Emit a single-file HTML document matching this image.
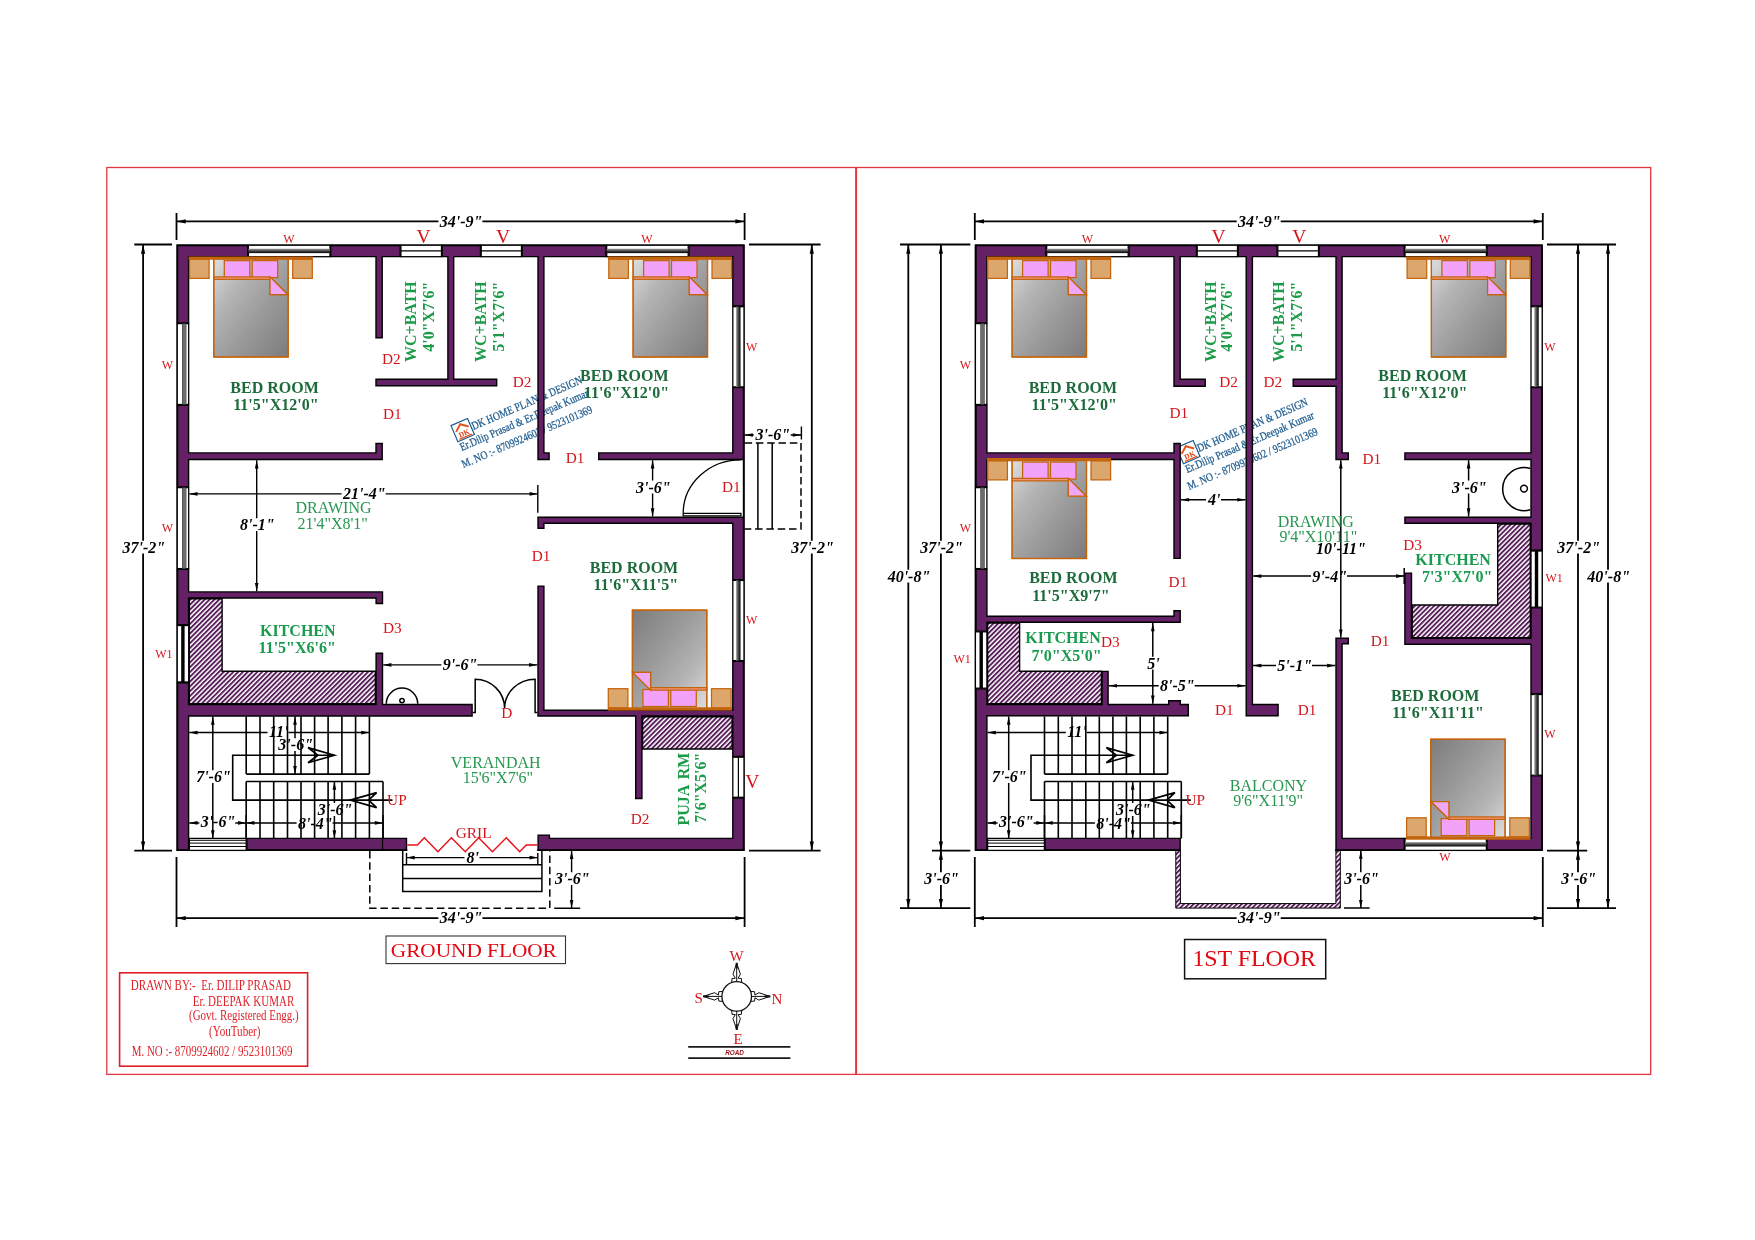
<!DOCTYPE html>
<html lang="en"><head><meta charset="utf-8"><title>Ground Floor and 1st Floor Plan</title>
<style>html,body{margin:0;padding:0;background:#fff}body{width:1755px;height:1240px;overflow:hidden}svg{display:block;will-change:transform}</style>
</head><body>
<svg width="1755" height="1240" viewBox="0 0 1755 1240" font-family="'Liberation Serif', serif">
<defs>
<pattern id="hat" width="3.4" height="3.4" patternUnits="userSpaceOnUse" patternTransform="rotate(-45)">
<rect width="3.4" height="3.4" fill="#fff"/><rect y="0" width="3.4" height="1.9" fill="#571e5a"/></pattern>
<pattern id="hat2" width="3.4" height="3.4" patternUnits="userSpaceOnUse" patternTransform="rotate(-45)">
<rect width="3.4" height="3.4" fill="#fff"/><rect y="0" width="3.4" height="1.9" fill="#571e5a"/></pattern>
<linearGradient id="bedg" x1="0" y1="0" x2="1" y2="1"><stop offset="0" stop-color="#dedede"/><stop offset="0.3" stop-color="#b4b4b4"/><stop offset="0.6" stop-color="#9a9a9a"/><stop offset="1" stop-color="#7c7c7c"/></linearGradient>
<linearGradient id="bedg2" x1="1" y1="1" x2="0" y2="0"><stop offset="0" stop-color="#c9c9c9"/><stop offset="0.5" stop-color="#a0a0a0"/><stop offset="1" stop-color="#7e7e7e"/></linearGradient>
<linearGradient id="hbg" x1="0" y1="0" x2="0" y2="1"><stop offset="0" stop-color="#e4e4e4"/><stop offset="1" stop-color="#9a9a9a"/></linearGradient>
<linearGradient id="wgh" x1="0" y1="0" x2="1" y2="0"><stop offset="0" stop-color="#a0a0a0"/><stop offset="0.4" stop-color="#5a5a5a"/><stop offset="1" stop-color="#000"/></linearGradient>
<linearGradient id="wgv" x1="0" y1="0" x2="0" y2="1"><stop offset="0" stop-color="#a0a0a0"/><stop offset="0.4" stop-color="#5a5a5a"/><stop offset="1" stop-color="#000"/></linearGradient>
<linearGradient id="wgl" x1="0" y1="0" x2="1" y2="0"><stop offset="0" stop-color="#333"/><stop offset="0.2" stop-color="#6c6c6c"/><stop offset="0.8" stop-color="#6c6c6c"/><stop offset="1" stop-color="#333"/></linearGradient>
<linearGradient id="pil" x1="0" y1="0" x2="1" y2="1"><stop offset="0" stop-color="#eea4f6"/><stop offset="1" stop-color="#f6a0fc"/></linearGradient>
</defs>
<rect width="1755" height="1240" fill="#fff"/>
<g fill="none" stroke="#e0383c">
<rect x="106.8" y="167.5" width="1543.9" height="906.9" stroke-width="1.3"/>
<line x1="856.1" y1="167.5" x2="856.1" y2="1074.4" stroke-width="2"/>
<rect x="119.6" y="972.8" width="188" height="93.4" stroke-width="1.6" stroke="#dd1f26"/>
</g>
<g transform="translate(473.4 430.1) rotate(-23.3)" fill="#1b5a8e" font-size="11.5" stroke="#1b5a8e" stroke-width="0.25">
<rect x="-18.8" y="-13" width="18" height="17.5" fill="#fff" stroke="#1b5a8e" stroke-width="1.2"/>
<path d="M-16.6 -5.2L-9.8 -10.6L-3 -5.2" fill="none" stroke="#e2571e" stroke-width="2"/>
<path d="M-16.5 3H-3" fill="none" stroke="#e2571e" stroke-width="1.4"/>
<text x="-9.8" y="1.6" font-size="7.6" font-weight="bold" fill="#d8431a" stroke="none" text-anchor="middle" textLength="11" lengthAdjust="spacingAndGlyphs">DK</text>
<text x="0" y="0" textLength="119.5" lengthAdjust="spacingAndGlyphs">DK HOME PLAN &amp; DESIGN</text>
<text x="-19" y="14.5" textLength="139" lengthAdjust="spacingAndGlyphs">Er.Dilip Prasad &amp; Er.Deepak Kumar</text>
<text x="-24" y="31" textLength="141" lengthAdjust="spacingAndGlyphs">M. NO :- 8709924602 / 9523101369</text>
</g>
<g transform="translate(1199 452.1) rotate(-23.3)" fill="#1b5a8e" font-size="11.5" stroke="#1b5a8e" stroke-width="0.25">
<rect x="-18.8" y="-13" width="18" height="17.5" fill="#fff" stroke="#1b5a8e" stroke-width="1.2"/>
<path d="M-16.6 -5.2L-9.8 -10.6L-3 -5.2" fill="none" stroke="#e2571e" stroke-width="2"/>
<path d="M-16.5 3H-3" fill="none" stroke="#e2571e" stroke-width="1.4"/>
<text x="-9.8" y="1.6" font-size="7.6" font-weight="bold" fill="#d8431a" stroke="none" text-anchor="middle" textLength="11" lengthAdjust="spacingAndGlyphs">DK</text>
<text x="0" y="0" textLength="119.5" lengthAdjust="spacingAndGlyphs">DK HOME PLAN &amp; DESIGN</text>
<text x="-19" y="14.5" textLength="139" lengthAdjust="spacingAndGlyphs">Er.Dilip Prasad &amp; Er.Deepak Kumar</text>
<text x="-24" y="31" textLength="141" lengthAdjust="spacingAndGlyphs">M. NO :- 8709924602 / 9523101369</text>
</g>
<polygon points="189.3,598.7 222.1,598.7 222.1,671.2 375.4,671.2 375.4,703.8 189.3,703.8" fill="url(#hat)" stroke="#000" stroke-width="1.4"/>
<polygon points="642.6,716.7 732.1,716.7 732.1,749 642.6,749" fill="url(#hat)" stroke="#000" stroke-width="1.4"/>
<polygon points="987.6,623 1019.6,623 1019.6,671.2 1101.4,671.2 1101.4,703.8 987.6,703.8" fill="url(#hat)" stroke="#000" stroke-width="1.4"/>
<polygon points="1497.7,524 1530.3,524 1530.3,637.6 1412.2,637.6 1412.2,605 1497.7,605" fill="url(#hat)" stroke="#000" stroke-width="1.4"/>
<polygon points="1175.8,850.6 1175.8,908.1 1340.3,908.1 1340.3,850.6 1335.9,850.6 1335.9,903.6 1180.4,903.6 1180.4,850.6" fill="url(#hat2)" stroke="#000" stroke-width="1"/>
<g transform="translate(0 0)" fill="none" stroke="#000" stroke-width="1.6">
<path d="M246.2 716.4V774.1M260 716.4V774.1M273.7 716.4V774.1M287.5 716.4V774.1M301 716.4V774.1M314.6 716.4V774.1M328.1 716.4V774.1M341.9 716.4V774.1M355.6 716.4V774.1M369.4 716.4V774.1M246.2 781.5V838.4M260 781.5V838.4M273.7 781.5V838.4M287.5 781.5V838.4M301 781.5V838.4M314.6 781.5V838.4M328.1 781.5V838.4M341.9 781.5V838.4M355.6 781.5V838.4M369.4 781.5V838.4M383 781.5V838.4M246.2 774.1H369.4M246.2 781.5H383M334.5 755.3H232.7V800.1H392.5"/>
<path d="M334.5 755.3L308 747.6L318 755.3L308 762.8Z" stroke-width="1.7"/>
<path d="M350.2 800.1L376.6 792.6L368.6 800.1L376.6 807.6Z" stroke-width="1.7"/>
</g>
<g transform="translate(798.3 0)" fill="none" stroke="#000" stroke-width="1.6">
<path d="M246.2 716.4V774.1M260 716.4V774.1M273.7 716.4V774.1M287.5 716.4V774.1M301 716.4V774.1M314.6 716.4V774.1M328.1 716.4V774.1M341.9 716.4V774.1M355.6 716.4V774.1M369.4 716.4V774.1M246.2 781.5V838.4M260 781.5V838.4M273.7 781.5V838.4M287.5 781.5V838.4M301 781.5V838.4M314.6 781.5V838.4M328.1 781.5V838.4M341.9 781.5V838.4M355.6 781.5V838.4M369.4 781.5V838.4M383 781.5V838.4M246.2 774.1H369.4M246.2 781.5H383M334.5 755.3H232.7V800.1H392.5"/>
<path d="M334.5 755.3L308 747.6L318 755.3L308 762.8Z" stroke-width="1.7"/>
<path d="M350.2 800.1L376.6 792.6L368.6 800.1L376.6 807.6Z" stroke-width="1.7"/>
</g>
<path d="M1542.1 850.3L1542.1 775.9L1531 775.9L1531 838.4L1487.1 838.4L1487.1 850.3ZM1542.1 245.2L1487.1 245.2L1487.1 256.6L1531 256.6L1531 306L1542.1 306ZM1404.9 644.3L1531 644.3L1531 693.8L1542.1 693.8L1542.1 607.9L1531 607.9L1531 638.3L1411.5 638.3L1411.5 573.1L1404.9 573.1ZM1404.9 523.3L1531 523.3L1531 550.3L1542.1 550.3L1542.1 387.6L1531 387.6L1531 452.9L1404.9 452.9L1404.9 459.5L1531 459.5L1531 517.2L1404.9 517.2ZM1348.3 459.5L1348.3 452.9L1342.1 452.9L1342.1 256.6L1404.3 256.6L1404.3 245.2L1319.2 245.2L1319.2 256.6L1336 256.6L1336 379.3L1293.2 379.3L1293.2 386.2L1336 386.2L1336 459.5ZM1336 638.3L1336 850.3L1404.3 850.3L1404.3 838.4L1342.1 838.4L1342.1 643.8L1348.3 643.8L1348.3 638.3ZM1238.2 256.6L1246.2 256.6L1246.2 715.8L1278.1 715.8L1278.1 704.5L1252.4 704.5L1252.4 256.6L1277.1 256.6L1277.1 245.2L1238.2 245.2ZM1128.9 256.6L1174 256.6L1174 386.2L1205.2 386.2L1205.2 379.3L1180.2 379.3L1180.2 256.6L1196.5 256.6L1196.5 245.2L1128.9 245.2ZM986.9 704.5L986.9 688.9L975.5 688.9L975.5 850.3L986.9 850.3L986.9 715.8L1188.3 715.8L1188.3 704.5L1180.3 704.5L1180.3 700.7L1168.7 700.7L1168.7 704.5L1108.1 704.5L1108.1 671.4L1102.1 671.4L1102.1 704.5ZM1180.2 443.5L1174 443.5L1174 452.9L986.9 452.9L986.9 405.2L975.5 405.2L975.5 486.9L986.9 486.9L986.9 459.5L1174 459.5L1174 558.4L1180.2 558.4ZM1045.1 850.3L1180.2 850.3L1180.2 838.4L1045.1 838.4ZM986.9 631.1L986.9 622.3L1180.2 622.3L1180.2 610.7L1174 610.7L1174 616.2L986.9 616.2L986.9 569.3L975.5 569.3L975.5 631.1ZM975.5 322.9L986.9 322.9L986.9 256.6L1046 256.6L1046 245.2L975.5 245.2ZM732.8 387.6L732.8 452.9L598.7 452.9L598.7 459.5L743.9 459.5L743.9 387.6ZM688.9 256.6L732.8 256.6L732.8 306L743.9 306L743.9 245.2L688.9 245.2ZM635.7 716L635.7 798.5L641.9 798.5L641.9 716L732.8 716L732.8 756.5L743.9 756.5L743.9 661.3L732.8 661.3L732.8 710.2L543.9 710.2L543.9 586.1L538 586.1L538 716ZM538.1 850.3L743.9 850.3L743.9 798L732.8 798L732.8 838.4L549.4 838.4L549.4 835.1L538.1 835.1ZM538 528.3L543.9 528.3L543.9 523.3L732.8 523.3L732.8 579.7L743.9 579.7L743.9 517.2L538 517.2ZM549.1 459.5L549.1 452.9L543.9 452.9L543.9 256.6L606 256.6L606 245.2L522.2 245.2L522.2 256.6L538 256.6L538 459.5ZM376 385.7L496.7 385.7L496.7 379.3L453.7 379.3L453.7 256.6L480.5 256.6L480.5 245.2L442.2 245.2L442.2 256.6L447.9 256.6L447.9 379.3L376 379.3ZM177.2 682.7L177.2 850.3L188.6 850.3L188.6 716L472.1 716L472.1 704.5L382.5 704.5L382.5 653.2L376.1 653.2L376.1 704.5L188.6 704.5L188.6 682.7ZM246.9 850.3L406.5 850.3L406.5 838.4L246.9 838.4ZM382.2 256.6L400.2 256.6L400.2 245.2L330.7 245.2L330.7 256.6L376 256.6L376 337.8L382.2 337.8ZM382.5 591.9L188.6 591.9L188.6 569.3L177.2 569.3L177.2 624.8L188.6 624.8L188.6 598L376.1 598L376.1 603.5L382.5 603.5ZM382.2 459.5L382.2 443.5L376 443.5L376 452.9L188.6 452.9L188.6 405.2L177.2 405.2L177.2 486.9L188.6 486.9L188.6 459.5ZM177.2 245.2L177.2 322.9L188.6 322.9L188.6 256.6L247.7 256.6L247.7 245.2Z" fill="#642166" stroke="#000" stroke-width="1.4" fill-rule="evenodd" stroke-linejoin="miter"/>
<path d="M407.2 850.1H177.4V245.4H743.7V850.1H537.4M1180.9 850.1H975.7V245.4H1541.9V850.1H1335.3" fill="none" stroke="#000" stroke-width="1.8" stroke-linejoin="miter"/>
<path d="M382.6 838.4V850.7" stroke="#000" stroke-width="1.1"/>
<rect x="177.2" y="323.6" width="11.5" height="80.9" fill="#fff" stroke="#000" stroke-width="1.3"/>
<rect x="182" y="323.6" width="4.4" height="80.9" fill="url(#wgl)"/>
<rect x="177.2" y="487.6" width="11.5" height="81" fill="#fff" stroke="#000" stroke-width="1.3"/>
<rect x="182" y="487.6" width="4.4" height="81" fill="url(#wgl)"/>
<rect x="177.2" y="625.5" width="11.5" height="56.5" fill="#fff" stroke="#000" stroke-width="1.3"/>
<rect x="181.2" y="625.5" width="3.4" height="56.5" fill="#000"/>
<rect x="248.4" y="245.2" width="81.6" height="11.5" fill="#fff" stroke="#000" stroke-width="1.3"/>
<rect x="248.4" y="248.7" width="81.6" height="4.4" fill="url(#wgv)"/>
<rect x="400.9" y="245.2" width="40.6" height="11.5" fill="#fff" stroke="#000" stroke-width="1.3"/>
<path d="M400.9 250.9H441.5" stroke="#000" stroke-width="1.2"/>
<rect x="481.2" y="245.2" width="40.3" height="11.5" fill="#fff" stroke="#000" stroke-width="1.3"/>
<path d="M481.2 250.9H521.5" stroke="#000" stroke-width="1.2"/>
<rect x="606.7" y="245.2" width="81.5" height="11.5" fill="#fff" stroke="#000" stroke-width="1.3"/>
<rect x="606.7" y="248.7" width="81.5" height="4.4" fill="url(#wgv)"/>
<rect x="732.8" y="306.7" width="11.2" height="80.2" fill="#fff" stroke="#000" stroke-width="1.3"/>
<rect x="736.1" y="306.7" width="4.4" height="80.2" fill="url(#wgh)"/>
<rect x="732.8" y="580.4" width="11.2" height="80.2" fill="#fff" stroke="#000" stroke-width="1.3"/>
<rect x="736.1" y="580.4" width="4.4" height="80.2" fill="url(#wgh)"/>
<rect x="732.8" y="757.2" width="11.2" height="40.1" fill="#fff" stroke="#000" stroke-width="1.3"/>
<path d="M738.4 757.2V797.3" stroke="#000" stroke-width="1.2"/>
<rect x="189.3" y="838.4" width="56.9" height="12" fill="#fff" stroke="#000" stroke-width="1.3"/>
<path d="M189.3 840.3H246.2M189.3 843.1H246.2M189.3 846.5H246.2" stroke="#000" stroke-width="1"/>
<rect x="975.4" y="323.6" width="11.5" height="80.9" fill="#fff" stroke="#000" stroke-width="1.3"/>
<rect x="980.3" y="323.6" width="4.4" height="80.9" fill="url(#wgl)"/>
<rect x="975.4" y="487.6" width="11.5" height="81" fill="#fff" stroke="#000" stroke-width="1.3"/>
<rect x="980.3" y="487.6" width="4.4" height="81" fill="url(#wgl)"/>
<rect x="975.4" y="631.8" width="11.5" height="56.4" fill="#fff" stroke="#000" stroke-width="1.3"/>
<rect x="979.5" y="631.8" width="3.4" height="56.4" fill="#000"/>
<rect x="1046.7" y="245.2" width="81.5" height="11.5" fill="#fff" stroke="#000" stroke-width="1.3"/>
<rect x="1046.7" y="248.7" width="81.5" height="4.4" fill="url(#wgv)"/>
<rect x="1197.2" y="245.2" width="40.3" height="11.5" fill="#fff" stroke="#000" stroke-width="1.3"/>
<path d="M1197.2 250.9H1237.5" stroke="#000" stroke-width="1.2"/>
<rect x="1277.8" y="245.2" width="40.7" height="11.5" fill="#fff" stroke="#000" stroke-width="1.3"/>
<path d="M1277.8 250.9H1318.5" stroke="#000" stroke-width="1.2"/>
<rect x="1405" y="245.2" width="81.4" height="11.5" fill="#fff" stroke="#000" stroke-width="1.3"/>
<rect x="1405" y="248.7" width="81.4" height="4.4" fill="url(#wgv)"/>
<rect x="1531" y="306.7" width="11.2" height="80.2" fill="#fff" stroke="#000" stroke-width="1.3"/>
<rect x="1534.3" y="306.7" width="4.4" height="80.2" fill="url(#wgh)"/>
<rect x="1531" y="551" width="11.2" height="56.2" fill="#fff" stroke="#000" stroke-width="1.3"/>
<rect x="1534.8" y="551" width="3.4" height="56.2" fill="#000"/>
<rect x="1531" y="694.5" width="11.2" height="80.7" fill="#fff" stroke="#000" stroke-width="1.3"/>
<rect x="1534.3" y="694.5" width="4.4" height="80.7" fill="url(#wgh)"/>
<rect x="987.6" y="838.4" width="56.8" height="12" fill="#fff" stroke="#000" stroke-width="1.3"/>
<path d="M987.6 840.3H1044.4M987.6 843.1H1044.4M987.6 846.5H1044.4" stroke="#000" stroke-width="1"/>
<rect x="1405" y="838.4" width="81.4" height="12" fill="#fff" stroke="#000" stroke-width="1.3"/>
<rect x="1405" y="842.1" width="81.4" height="4.4" fill="url(#wgv)"/>
<g transform="translate(188.6 257.3)" stroke="#c4640c" stroke-width="1.25">
<rect x="25.2" y="1.2" width="74.4" height="98.5" fill="url(#bedg)"/>
<rect x="0.9" y="1.9" width="19.6" height="19.2" fill="#dca76d"/>
<rect x="104.1" y="1.9" width="19.6" height="19.2" fill="#dca76d"/>
<rect x="35.7" y="3.3" width="25.5" height="17" fill="url(#pil)"/>
<rect x="63.6" y="3.3" width="25.5" height="17" fill="url(#pil)"/>
<path d="M25.2 19.6H81.4L99.3 37.4H81.4V22.1H25.2Z" fill="#f4957b"/>
<path d="M81.4 19.6L99.3 37.4H81.4Z" fill="#efa8f7"/>
<rect x="0" y="-0.8" width="124.1" height="3.3" fill="#c4640c" stroke="none"/>
<rect x="25.2" y="1.2" width="74.4" height="98.5" fill="none"/>
</g>
<g transform="translate(607.9 257.3)" stroke="#c4640c" stroke-width="1.25">
<rect x="25.2" y="1.2" width="74.4" height="98.5" fill="url(#bedg)"/>
<rect x="0.9" y="1.9" width="19.6" height="19.2" fill="#dca76d"/>
<rect x="104.1" y="1.9" width="19.6" height="19.2" fill="#dca76d"/>
<rect x="35.7" y="3.3" width="25.5" height="17" fill="url(#pil)"/>
<rect x="63.6" y="3.3" width="25.5" height="17" fill="url(#pil)"/>
<path d="M25.2 19.6H81.4L99.3 37.4H81.4V22.1H25.2Z" fill="#f4957b"/>
<path d="M81.4 19.6L99.3 37.4H81.4Z" fill="#efa8f7"/>
<rect x="0" y="-0.8" width="124.1" height="3.3" fill="#c4640c" stroke="none"/>
<rect x="25.2" y="1.2" width="74.4" height="98.5" fill="none"/>
</g>
<g transform="translate(986.9 257.3)" stroke="#c4640c" stroke-width="1.25">
<rect x="25.2" y="1.2" width="74.4" height="98.5" fill="url(#bedg)"/>
<rect x="0.9" y="1.9" width="19.6" height="19.2" fill="#dca76d"/>
<rect x="104.1" y="1.9" width="19.6" height="19.2" fill="#dca76d"/>
<rect x="35.7" y="3.3" width="25.5" height="17" fill="url(#pil)"/>
<rect x="63.6" y="3.3" width="25.5" height="17" fill="url(#pil)"/>
<path d="M25.2 19.6H81.4L99.3 37.4H81.4V22.1H25.2Z" fill="#f4957b"/>
<path d="M81.4 19.6L99.3 37.4H81.4Z" fill="#efa8f7"/>
<rect x="0" y="-0.8" width="124.1" height="3.3" fill="#c4640c" stroke="none"/>
<rect x="25.2" y="1.2" width="74.4" height="98.5" fill="none"/>
</g>
<g transform="translate(986.9 458.8)" stroke="#c4640c" stroke-width="1.25">
<rect x="25.2" y="1.2" width="74.4" height="98.5" fill="url(#bedg)"/>
<rect x="0.9" y="1.9" width="19.6" height="19.2" fill="#dca76d"/>
<rect x="104.1" y="1.9" width="19.6" height="19.2" fill="#dca76d"/>
<rect x="35.7" y="3.3" width="25.5" height="17" fill="url(#pil)"/>
<rect x="63.6" y="3.3" width="25.5" height="17" fill="url(#pil)"/>
<path d="M25.2 19.6H81.4L99.3 37.4H81.4V22.1H25.2Z" fill="#f4957b"/>
<path d="M81.4 19.6L99.3 37.4H81.4Z" fill="#efa8f7"/>
<rect x="0" y="-0.8" width="124.1" height="3.3" fill="#c4640c" stroke="none"/>
<rect x="25.2" y="1.2" width="74.4" height="98.5" fill="none"/>
</g>
<g transform="translate(1406.2 257.3)" stroke="#c4640c" stroke-width="1.25">
<rect x="25.2" y="1.2" width="74.4" height="98.5" fill="url(#bedg)"/>
<rect x="0.9" y="1.9" width="19.6" height="19.2" fill="#dca76d"/>
<rect x="104.1" y="1.9" width="19.6" height="19.2" fill="#dca76d"/>
<rect x="35.7" y="3.3" width="25.5" height="17" fill="url(#pil)"/>
<rect x="63.6" y="3.3" width="25.5" height="17" fill="url(#pil)"/>
<path d="M25.2 19.6H81.4L99.3 37.4H81.4V22.1H25.2Z" fill="#f4957b"/>
<path d="M81.4 19.6L99.3 37.4H81.4Z" fill="#efa8f7"/>
<rect x="0" y="-0.8" width="124.1" height="3.3" fill="#c4640c" stroke="none"/>
<rect x="25.2" y="1.2" width="74.4" height="98.5" fill="none"/>
</g>
<g transform="translate(732 709.8) rotate(180)" stroke="#c4640c" stroke-width="1.25">
<rect x="25.2" y="1.2" width="74.4" height="98.5" fill="url(#bedg)"/>
<rect x="0.9" y="1.9" width="19.6" height="19.2" fill="#dca76d"/>
<rect x="104.1" y="1.9" width="19.6" height="19.2" fill="#dca76d"/>
<rect x="35.7" y="3.3" width="25.5" height="17" fill="url(#pil)"/>
<rect x="63.6" y="3.3" width="25.5" height="17" fill="url(#pil)"/>
<path d="M25.2 19.6H81.4L99.3 37.4H81.4V22.1H25.2Z" fill="#f4957b"/>
<path d="M81.4 19.6L99.3 37.4H81.4Z" fill="#efa8f7"/>
<rect x="0" y="-0.8" width="124.1" height="3.3" fill="#c4640c" stroke="none"/>
<rect x="25.2" y="1.2" width="74.4" height="98.5" fill="none"/>
</g>
<g transform="translate(1530.3 838.9) rotate(180)" stroke="#c4640c" stroke-width="1.25">
<rect x="25.2" y="1.2" width="74.4" height="98.5" fill="url(#bedg)"/>
<rect x="0.9" y="1.9" width="19.6" height="19.2" fill="#dca76d"/>
<rect x="104.1" y="1.9" width="19.6" height="19.2" fill="#dca76d"/>
<rect x="35.7" y="3.3" width="25.5" height="17" fill="url(#pil)"/>
<rect x="63.6" y="3.3" width="25.5" height="17" fill="url(#pil)"/>
<path d="M25.2 19.6H81.4L99.3 37.4H81.4V22.1H25.2Z" fill="#f4957b"/>
<path d="M81.4 19.6L99.3 37.4H81.4Z" fill="#efa8f7"/>
<rect x="0" y="-0.8" width="124.1" height="3.3" fill="#c4640c" stroke="none"/>
<rect x="25.2" y="1.2" width="74.4" height="98.5" fill="none"/>
</g>
<path d="M189.3 493.9H341.6M385.6 493.9H537.8M537.8 485V512.7M256.7 460.2V518.3M256.7 531.1V591.2M383.2 664.9H441.4M477.4 664.9H537.3M744.6 435H753.7M790.7 435H801M801.4 426.5V439.5M652.6 460.2V480.6M652.6 493.4V516.5M406.5 857.6H464.5M479.5 857.6H537.8M406.5 853V865M537.8 853V865M571.6 850.7V872.3M571.6 885.1V908.2M554.2 908.2H580.2" fill="none" stroke="#000" stroke-width="1.4"/>
<path d="M176.5 221.4H438.4M482.4 221.4H744.6M176.5 918.2H438.4M482.4 918.2H744.6M176.5 213V240M744.6 213V240M176.5 857V927M744.6 857V927M974.8 221.4H1236.7M1280.7 221.4H1542.8M974.8 918.2H1236.7M1280.7 918.2H1542.8M974.8 213V240M1542.8 213V240M974.8 857V927M1542.8 857V927M143.1 244.5V540.8M143.1 553.6V850.6M134.3 244.5H172M134.3 850.6H172M811.8 244.5V540.8M811.8 553.6V850.6M749 244.5H820.6M749 850.6H820.6M908.3 244.5V569.7M908.3 582.5V908.1M940.9 244.5V540.8M940.9 553.6V850.6M940.9 850.6V872.3M940.9 885.1V908.1M900 244.5H970.3M931.9 850.6H970.3M900 908.1H970.3M1578 244.5V540.8M1578 553.6V850.6M1578 850.6V872.3M1578 885.1V908.1M1608 244.5V569.7M1608 582.5V908.1M1547 244.5H1616M1547 850.6H1587.2M1547 908.1H1616" fill="none" stroke="#000" stroke-width="1.8"/>
<path d="M189.3 732.6H267.5M288.5 732.6H369.4M212.8 716.5V770.3M212.8 783.1V838.4M295 716.5V738.2M295 751V774.1M334.4 781.5V803.1M334.4 815.9V838.4M189.3 822.9H199.3M235.3 822.9H246.2M246.2 822.9H296.6M332.6 822.9H383M246.2 815V838M383 815V838M987.6 732.6H1065.8M1086.8 732.6H1167.7M1008.7 716.5V770.3M1008.7 783.1V838.4M1132.7 781.5V803.1M1132.7 815.9V838.4M987.6 822.9H997.6M1033.6 822.9H1044.5M1044.5 822.9H1094.9M1130.9 822.9H1181.3M1044.5 815V838M1181.3 815V838M1360.8 850.6V872.3M1360.8 885.1V908.1M1344 908.1H1369.6M1180.9 499.7H1206M1221 499.7H1245.5M1152.8 623V656.8M1152.8 669.6V703.8M1108.8 685.7H1158.7M1194.7 685.7H1245.5M1253.1 665.6H1276M1312 665.6H1335.3M1253.1 576.1H1311M1347 576.1H1404.2M1340.8 460.2V637.6M1468.6 460.2V480.6M1468.6 493.4V516.5M1404.2 568V584" fill="none" stroke="#000" stroke-width="1.5"/>
<path d="M176.5 221.4L185.7 219.3L185.7 223.5ZM744.6 221.4L735.4 223.5L735.4 219.3ZM176.5 918.2L185.7 916.1L185.7 920.3ZM744.6 918.2L735.4 920.3L735.4 916.1ZM974.8 221.4L984 219.3L984 223.5ZM1542.8 221.4L1533.6 223.5L1533.6 219.3ZM974.8 918.2L984 916.1L984 920.3ZM1542.8 918.2L1533.6 920.3L1533.6 916.1ZM143.1 244.5L145.2 253.7L141 253.7ZM143.1 850.6L141 841.4L145.2 841.4ZM811.8 244.5L813.9 253.7L809.7 253.7ZM811.8 850.6L809.7 841.4L813.9 841.4ZM189.3 493.9L197.5 492.1L197.5 495.7ZM537.8 493.9L529.6 495.7L529.6 492.1ZM256.7 460.2L258.5 468.4L254.9 468.4ZM256.7 591.2L254.9 583L258.5 583ZM383.2 664.9L391.4 663.1L391.4 666.7ZM537.3 664.9L529.1 666.7L529.1 663.1ZM744.6 435L752.8 433.2L752.8 436.8ZM801 435L792.8 436.8L792.8 433.2ZM652.6 460.2L654.4 468.4L650.8 468.4ZM652.6 516.5L650.8 508.3L654.4 508.3ZM406.5 857.6L414.7 855.8L414.7 859.4ZM537.8 857.6L529.6 859.4L529.6 855.8ZM571.6 850.7L573.4 858.9L569.8 858.9ZM571.6 908.2L569.8 900L573.4 900ZM189.3 732.6L197.5 730.8L197.5 734.4ZM369.4 732.6L361.2 734.4L361.2 730.8ZM212.8 716.5L214.6 724.7L211 724.7ZM212.8 838.4L211 830.2L214.6 830.2ZM295 716.5L296.8 724.7L293.2 724.7ZM295 774.1L293.2 765.9L296.8 765.9ZM334.4 781.5L336.2 789.7L332.6 789.7ZM334.4 838.4L332.6 830.2L336.2 830.2ZM189.3 822.9L197.5 821.1L197.5 824.7ZM246.2 822.9L238 824.7L238 821.1ZM246.2 822.9L254.4 821.1L254.4 824.7ZM383 822.9L374.8 824.7L374.8 821.1ZM987.6 732.6L995.8 730.8L995.8 734.4ZM1167.7 732.6L1159.5 734.4L1159.5 730.8ZM1008.7 716.5L1010.5 724.7L1006.9 724.7ZM1008.7 838.4L1006.9 830.2L1010.5 830.2ZM1132.7 781.5L1134.5 789.7L1130.9 789.7ZM1132.7 838.4L1130.9 830.2L1134.5 830.2ZM987.6 822.9L995.8 821.1L995.8 824.7ZM1044.5 822.9L1036.3 824.7L1036.3 821.1ZM1044.5 822.9L1052.7 821.1L1052.7 824.7ZM1181.3 822.9L1173.1 824.7L1173.1 821.1ZM908.3 244.5L910.4 253.7L906.2 253.7ZM908.3 908.1L906.2 898.9L910.4 898.9ZM940.9 244.5L943 253.7L938.8 253.7ZM940.9 850.6L938.8 841.4L943 841.4ZM940.9 850.6L943 859.8L938.8 859.8ZM940.9 908.1L938.8 898.9L943 898.9ZM1578 244.5L1580.1 253.7L1575.9 253.7ZM1578 850.6L1575.9 841.4L1580.1 841.4ZM1578 850.6L1580.1 859.8L1575.9 859.8ZM1578 908.1L1575.9 898.9L1580.1 898.9ZM1608 244.5L1610.1 253.7L1605.9 253.7ZM1608 908.1L1605.9 898.9L1610.1 898.9ZM1360.8 850.6L1362.6 858.8L1359 858.8ZM1360.8 908.1L1359 899.9L1362.6 899.9ZM1180.9 499.7L1189.1 497.9L1189.1 501.5ZM1245.5 499.7L1237.3 501.5L1237.3 497.9ZM1152.8 623L1154.6 631.2L1151 631.2ZM1152.8 703.8L1151 695.6L1154.6 695.6ZM1108.8 685.7L1117 683.9L1117 687.5ZM1245.5 685.7L1237.3 687.5L1237.3 683.9ZM1253.1 665.6L1261.3 663.8L1261.3 667.4ZM1335.3 665.6L1327.1 667.4L1327.1 663.8ZM1253.1 576.1L1261.3 574.3L1261.3 577.9ZM1404.2 576.1L1396 577.9L1396 574.3ZM1340.8 460.2L1342.6 468.4L1339 468.4ZM1340.8 637.6L1339 629.4L1342.6 629.4ZM1468.6 460.2L1470.4 468.4L1466.8 468.4ZM1468.6 516.5L1466.8 508.3L1470.4 508.3Z" fill="#000" stroke="none"/>
<g fill="none" stroke="#000" stroke-width="1.5">
<path d="M744.6 443H801V529H744.6" stroke-dasharray="7.5 3.8"/>
<path d="M757.9 443V529M772.2 443V529"/>
<path d="M743.9 459.6V516.5" stroke-width="1.4"/>
<path d="M683.2 513.3H740.9V515.8H683.2ZM683.2 513.3A57.5 53.5 0 0 1 740.7 459.8" stroke-width="1.3"/>
<path d="M386.3 703.8A15.7 15.7 0 0 1 417.7 703.8"/><circle cx="402" cy="700.6" r="2.2"/>
<path d="M1530.3 468.5A21.5 21.5 0 1 0 1530.3 509.7"/><circle cx="1524" cy="488.6" r="3.4"/>
<path d="M472.8 712.6H475.2V679.2A29.4 29.4 0 0 1 504.6 708M537.3 712.6H535.1V679.2A30.4 29.4 0 0 0 504.6 708"/>
<path d="M402.7 850.7V891.4H541.9V850.7M402.7 864.7H541.9M402.7 878.4H541.9"/>
<path d="M369.8 851V908.2H549.8V851" stroke-dasharray="7.5 3.8"/>
<rect x="386" y="936" width="179.5" height="27.6" stroke="#333" stroke-width="1.1"/>
<rect x="1184.6" y="939.5" width="141.1" height="39.3" stroke="#111" stroke-width="1.5"/>
</g>
<path d="M407.2 844.9H417.4L424.3 837.8L437.9 851.7L451.4 837.8L465.3 851.7L478.7 837.8L492.4 851.7L506.3 837.8L519.7 851.7L526.2 844.9H537.4" fill="none" stroke="#e8141c" stroke-width="1.5"/>
<g fill="none" stroke="#111" stroke-width="1">
<g transform="rotate(0 736.7 996.4)"><path d="M736.7 963L733 974.2L735.3 978.2L732 978.5L731.7 982.5H741.7L741.4 978.5L738.1 978.2L740.4 974.2ZM736.7 963V982" fill="#fff"/><path d="M736.7 962.8V968.6" stroke-width="2"/></g>
<g transform="rotate(90 736.7 996.4)"><path d="M736.7 963L733 974.2L735.3 978.2L732 978.5L731.7 982.5H741.7L741.4 978.5L738.1 978.2L740.4 974.2ZM736.7 963V982" fill="#fff"/><path d="M736.7 962.8V968.6" stroke-width="2"/></g>
<g transform="rotate(180 736.7 996.4)"><path d="M736.7 963L733 974.2L735.3 978.2L732 978.5L731.7 982.5H741.7L741.4 978.5L738.1 978.2L740.4 974.2ZM736.7 963V982" fill="#fff"/><path d="M736.7 962.8V968.6" stroke-width="2"/></g>
<g transform="rotate(270 736.7 996.4)"><path d="M736.7 963L733 974.2L735.3 978.2L732 978.5L731.7 982.5H741.7L741.4 978.5L738.1 978.2L740.4 974.2ZM736.7 963V982" fill="#fff"/><path d="M736.7 962.8V968.6" stroke-width="2"/></g>
<circle cx="736.7" cy="996.4" r="14.8" stroke-width="1.3" fill="#fff"/>
</g>
<path d="M688.2 1046.8H790.4M688.2 1058.1H790.4" stroke="#1a1a1a" stroke-width="1.7"/>
<text x="461.1" y="226.5" font-size="16" fill="#000" text-anchor="middle" font-weight="bold" font-style="italic">34'-9"</text>
<text x="461.1" y="923.3" font-size="16" fill="#000" text-anchor="middle" font-weight="bold" font-style="italic">34'-9"</text>
<text x="1259.4" y="226.5" font-size="16" fill="#000" text-anchor="middle" font-weight="bold" font-style="italic">34'-9"</text>
<text x="1259.4" y="923.3" font-size="16" fill="#000" text-anchor="middle" font-weight="bold" font-style="italic">34'-9"</text>
<text x="143.8" y="552.8" font-size="16" fill="#000" text-anchor="middle" font-weight="bold" font-style="italic">37'-2"</text>
<text x="812.5" y="552.8" font-size="16" fill="#000" text-anchor="middle" font-weight="bold" font-style="italic">37'-2"</text>
<text x="364.3" y="499" font-size="16" fill="#000" text-anchor="middle" font-weight="bold" font-style="italic">21'-4"</text>
<text x="257.4" y="530.3" font-size="16" fill="#000" text-anchor="middle" font-weight="bold" font-style="italic">8'-1"</text>
<text x="460.1" y="670" font-size="16" fill="#000" text-anchor="middle" font-weight="bold" font-style="italic">9'-6"</text>
<text x="772.9" y="439.6" font-size="16" fill="#000" text-anchor="middle" font-weight="bold" font-style="italic">3'-6"</text>
<text x="653.3" y="492.6" font-size="16" fill="#000" text-anchor="middle" font-weight="bold" font-style="italic">3'-6"</text>
<text x="472.7" y="862.6" font-size="16" fill="#000" text-anchor="middle" font-weight="bold" font-style="italic">8'</text>
<text x="572.3" y="884.3" font-size="16" fill="#000" text-anchor="middle" font-weight="bold" font-style="italic">3'-6"</text>
<text x="278.7" y="737.4" font-size="16" fill="#000" text-anchor="middle" font-weight="bold" font-style="italic">11'</text>
<text x="213.5" y="782.3" font-size="16" fill="#000" text-anchor="middle" font-weight="bold" font-style="italic">7'-6"</text>
<text x="295.7" y="750.2" font-size="16" fill="#000" text-anchor="middle" font-weight="bold" font-style="italic">3'-6"</text>
<text x="335.1" y="815.1" font-size="16" fill="#000" text-anchor="middle" font-weight="bold" font-style="italic">3'-6"</text>
<text x="218" y="827.3" font-size="16" fill="#000" text-anchor="middle" font-weight="bold" font-style="italic">3'-6"</text>
<text x="315.3" y="828.7" font-size="16" fill="#000" text-anchor="middle" font-weight="bold" font-style="italic">8'-4"</text>
<text x="1077" y="737.4" font-size="16" fill="#000" text-anchor="middle" font-weight="bold" font-style="italic">11'</text>
<text x="1009.4" y="782.3" font-size="16" fill="#000" text-anchor="middle" font-weight="bold" font-style="italic">7'-6"</text>
<text x="1133.4" y="815.1" font-size="16" fill="#000" text-anchor="middle" font-weight="bold" font-style="italic">3'-6"</text>
<text x="1016.3" y="827.3" font-size="16" fill="#000" text-anchor="middle" font-weight="bold" font-style="italic">3'-6"</text>
<text x="1113.6" y="828.7" font-size="16" fill="#000" text-anchor="middle" font-weight="bold" font-style="italic">8'-4"</text>
<text x="909" y="581.7" font-size="16" fill="#000" text-anchor="middle" font-weight="bold" font-style="italic">40'-8"</text>
<text x="941.6" y="552.8" font-size="16" fill="#000" text-anchor="middle" font-weight="bold" font-style="italic">37'-2"</text>
<text x="941.6" y="884.3" font-size="16" fill="#000" text-anchor="middle" font-weight="bold" font-style="italic">3'-6"</text>
<text x="1578.7" y="552.8" font-size="16" fill="#000" text-anchor="middle" font-weight="bold" font-style="italic">37'-2"</text>
<text x="1578.7" y="884.3" font-size="16" fill="#000" text-anchor="middle" font-weight="bold" font-style="italic">3'-6"</text>
<text x="1608.7" y="581.7" font-size="16" fill="#000" text-anchor="middle" font-weight="bold" font-style="italic">40'-8"</text>
<text x="1361.5" y="884.3" font-size="16" fill="#000" text-anchor="middle" font-weight="bold" font-style="italic">3'-6"</text>
<text x="1214.2" y="504.8" font-size="16" fill="#000" text-anchor="middle" font-weight="bold" font-style="italic">4'</text>
<text x="1153.5" y="668.8" font-size="16" fill="#000" text-anchor="middle" font-weight="bold" font-style="italic">5'</text>
<text x="1177.4" y="690.8" font-size="16" fill="#000" text-anchor="middle" font-weight="bold" font-style="italic">8'-5"</text>
<text x="1294.7" y="670.8" font-size="16" fill="#000" text-anchor="middle" font-weight="bold" font-style="italic">5'-1"</text>
<text x="1329.7" y="581.7" font-size="16" fill="#000" text-anchor="middle" font-weight="bold" font-style="italic">9'-4"</text>
<text x="1341" y="554.1" font-size="16" fill="#000" text-anchor="middle" font-weight="bold" font-style="italic">10'-11"</text>
<text x="1469.3" y="492.6" font-size="16" fill="#000" text-anchor="middle" font-weight="bold" font-style="italic">3'-6"</text>
<text x="274.6" y="392.7" font-size="16" fill="#1d6b3b" text-anchor="middle" font-weight="bold">BED ROOM</text>
<text x="275.9" y="409.5" font-size="16" fill="#1d6b3b" text-anchor="middle" font-weight="bold">11'5"X12'0"</text>
<text x="624.3" y="380.6" font-size="16" fill="#1d6b3b" text-anchor="middle" font-weight="bold">BED ROOM</text>
<text x="626.5" y="398.2" font-size="16" fill="#1d6b3b" text-anchor="middle" font-weight="bold">11'6"X12'0"</text>
<text x="634" y="573.2" font-size="16" fill="#1d6b3b" text-anchor="middle" font-weight="bold">BED ROOM</text>
<text x="635.8" y="590.2" font-size="16" fill="#1d6b3b" text-anchor="middle" font-weight="bold">11'6"X11'5"</text>
<text x="297.8" y="635.6" font-size="16" fill="#1a9a4e" text-anchor="middle" font-weight="bold">KITCHEN</text>
<text x="297.2" y="653.1" font-size="16" fill="#1a9a4e" text-anchor="middle" font-weight="bold">11'5"X6'6"</text>
<text x="333.5" y="512.7" font-size="16" fill="#27974f" text-anchor="middle">DRAWING</text>
<text x="332.7" y="529" font-size="16" fill="#27974f" text-anchor="middle">21'4"X8'1"</text>
<text x="495.7" y="767.5" font-size="16" fill="#27974f" text-anchor="middle">VERANDAH</text>
<text x="497.9" y="783.2" font-size="16" fill="#27974f" text-anchor="middle">15'6"X7'6"</text>
<text x="1072.9" y="392.7" font-size="16" fill="#1d6b3b" text-anchor="middle" font-weight="bold">BED ROOM</text>
<text x="1074.2" y="409.5" font-size="16" fill="#1d6b3b" text-anchor="middle" font-weight="bold">11'5"X12'0"</text>
<text x="1073.4" y="582.9" font-size="16" fill="#1d6b3b" text-anchor="middle" font-weight="bold">BED ROOM</text>
<text x="1070.9" y="600.5" font-size="16" fill="#1d6b3b" text-anchor="middle" font-weight="bold">11'5"X9'7"</text>
<text x="1063" y="642.6" font-size="16" fill="#1a9a4e" text-anchor="middle" font-weight="bold">KITCHEN</text>
<text x="1066.5" y="660.6" font-size="16" fill="#1a9a4e" text-anchor="middle" font-weight="bold">7'0"X5'0"</text>
<text x="1315.8" y="526.5" font-size="16" fill="#27974f" text-anchor="middle">DRAWING</text>
<text x="1318.3" y="541.5" font-size="16" fill="#27974f" text-anchor="middle">9'4"X10'11"</text>
<text x="1453.1" y="564.6" font-size="16" fill="#1a9a4e" text-anchor="middle" font-weight="bold">KITCHEN</text>
<text x="1457.2" y="582.4" font-size="16" fill="#1a9a4e" text-anchor="middle" font-weight="bold">7'3"X7'0"</text>
<text x="1422.6" y="380.6" font-size="16" fill="#1d6b3b" text-anchor="middle" font-weight="bold">BED ROOM</text>
<text x="1424.8" y="398.2" font-size="16" fill="#1d6b3b" text-anchor="middle" font-weight="bold">11'6"X12'0"</text>
<text x="1435.2" y="700.7" font-size="16" fill="#1d6b3b" text-anchor="middle" font-weight="bold">BED ROOM</text>
<text x="1438" y="717.8" font-size="16" fill="#1d6b3b" text-anchor="middle" font-weight="bold">11'6"X11'11"</text>
<text x="1268.5" y="790.8" font-size="16" fill="#27974f" text-anchor="middle">BALCONY</text>
<text x="1268.1" y="805.8" font-size="16" fill="#27974f" text-anchor="middle">9'6"X11'9"</text>
<text transform="translate(416.4 281.2) rotate(-90)" font-size="16" font-weight="bold" fill="#1c9c49" text-anchor="end">WC+BATH</text>
<text transform="translate(433.7 281.5) rotate(-90)" font-size="16" font-weight="bold" fill="#1c9c49" text-anchor="end">4'0"X7'6"</text>
<text transform="translate(486.1 281.2) rotate(-90)" font-size="16" font-weight="bold" fill="#1c9c49" text-anchor="end">WC+BATH</text>
<text transform="translate(503.8 281.5) rotate(-90)" font-size="16" font-weight="bold" fill="#1c9c49" text-anchor="end">5'1"X7'6"</text>
<text transform="translate(1215.5 281.2) rotate(-90)" font-size="16" font-weight="bold" fill="#1c9c49" text-anchor="end">WC+BATH</text>
<text transform="translate(1232 281.5) rotate(-90)" font-size="16" font-weight="bold" fill="#1c9c49" text-anchor="end">4'0"X7'6"</text>
<text transform="translate(1284.2 281.2) rotate(-90)" font-size="16" font-weight="bold" fill="#1c9c49" text-anchor="end">WC+BATH</text>
<text transform="translate(1302.1 281.5) rotate(-90)" font-size="16" font-weight="bold" fill="#1c9c49" text-anchor="end">5'1"X7'6"</text>
<text transform="translate(688.7 752.7) rotate(-90)" font-size="16" font-weight="bold" fill="#1c9c49" text-anchor="end" word-spacing="2.2">PUJA RM</text>
<text transform="translate(706.3 752.6) rotate(-90)" font-size="16" font-weight="bold" fill="#1c9c49" text-anchor="end">7'6"X5'6"</text>
<text x="289" y="243.2" font-size="12" fill="#d4151b" text-anchor="middle">W</text>
<text x="646.9" y="243.2" font-size="12" fill="#d4151b" text-anchor="middle">W</text>
<text x="167.3" y="368.6" font-size="12" fill="#d4151b" text-anchor="middle">W</text>
<text x="751.6" y="350.5" font-size="12" fill="#d4151b" text-anchor="middle">W</text>
<text x="167.3" y="531.5" font-size="12" fill="#d4151b" text-anchor="middle">W</text>
<text x="751.6" y="624.3" font-size="12" fill="#d4151b" text-anchor="middle">W</text>
<text x="1087.3" y="243.2" font-size="12" fill="#d4151b" text-anchor="middle">W</text>
<text x="1444.7" y="243.2" font-size="12" fill="#d4151b" text-anchor="middle">W</text>
<text x="965.5" y="368.6" font-size="12" fill="#d4151b" text-anchor="middle">W</text>
<text x="965.5" y="531.5" font-size="12" fill="#d4151b" text-anchor="middle">W</text>
<text x="1550" y="350.5" font-size="12" fill="#d4151b" text-anchor="middle">W</text>
<text x="1550" y="738.3" font-size="12" fill="#d4151b" text-anchor="middle">W</text>
<text x="1444.9" y="860.5" font-size="12" fill="#d4151b" text-anchor="middle">W</text>
<text x="155.2" y="657.6" font-size="12" fill="#d4151b">W1</text>
<text x="953.5" y="663.1" font-size="12" fill="#d4151b">W1</text>
<text x="1545.4" y="582.4" font-size="12" fill="#d4151b">W1</text>
<text x="423.5" y="242.8" font-size="19.5" fill="#d4151b" text-anchor="middle">V</text>
<text x="503" y="242.8" font-size="19.5" fill="#d4151b" text-anchor="middle">V</text>
<text x="752.4" y="788.4" font-size="19.5" fill="#d4151b" text-anchor="middle">V</text>
<text x="1218.5" y="242.8" font-size="19.5" fill="#d4151b" text-anchor="middle">V</text>
<text x="1299.3" y="242.8" font-size="19.5" fill="#d4151b" text-anchor="middle">V</text>
<text x="381.9" y="363.6" font-size="15.3" fill="#d4151b">D2</text>
<text x="512.7" y="386.9" font-size="15.3" fill="#d4151b">D2</text>
<text x="382.9" y="418.7" font-size="15.3" fill="#d4151b">D1</text>
<text x="565.7" y="463.4" font-size="15.3" fill="#d4151b">D1</text>
<text x="721.9" y="491.9" font-size="15.3" fill="#d4151b">D1</text>
<text x="531.8" y="561.1" font-size="15.3" fill="#d4151b">D1</text>
<text x="382.9" y="633.1" font-size="15.3" fill="#d4151b">D3</text>
<text x="501.3" y="718.3" font-size="15.3" fill="#d4151b">D</text>
<text x="630.8" y="824.1" font-size="15.3" fill="#d4151b">D2</text>
<text x="387.1" y="804.5" font-size="15.3" fill="#d4151b">UP</text>
<text x="455.8" y="837.9" font-size="15.3" fill="#d4151b">GRIL</text>
<text x="1219.3" y="386.9" font-size="15.3" fill="#d4151b">D2</text>
<text x="1263.4" y="386.9" font-size="15.3" fill="#d4151b">D2</text>
<text x="1169.4" y="417.7" font-size="15.3" fill="#d4151b">D1</text>
<text x="1168.6" y="586.7" font-size="15.3" fill="#d4151b">D1</text>
<text x="1215" y="715.3" font-size="15.3" fill="#d4151b">D1</text>
<text x="1297.7" y="714.5" font-size="15.3" fill="#d4151b">D1</text>
<text x="1362.4" y="463.8" font-size="15.3" fill="#d4151b">D1</text>
<text x="1403.3" y="549.6" font-size="15.3" fill="#d4151b">D3</text>
<text x="1370.7" y="646.3" font-size="15.3" fill="#d4151b">D1</text>
<text x="1185.4" y="804.5" font-size="15.3" fill="#d4151b">UP</text>
<text x="1100.9" y="646.8" font-size="15.3" fill="#d4151b">D3</text>
<text x="390.8" y="956.8" font-size="19.6" fill="#e30613" textLength="166" lengthAdjust="spacingAndGlyphs">GROUND FLOOR</text>
<text x="1192.4" y="965.8" font-size="24" fill="#e30613" textLength="123.6" lengthAdjust="spacingAndGlyphs">1ST FLOOR</text>
<text x="130.8" y="989.7" font-size="14.5" fill="#dd1f26" textLength="160.2" lengthAdjust="spacingAndGlyphs" style="white-space:pre">DRAWN BY:-  Er. DILIP PRASAD</text>
<text x="192.8" y="1005.7" font-size="14.5" fill="#dd1f26" textLength="101.5" lengthAdjust="spacingAndGlyphs">Er. DEEPAK KUMAR</text>
<text x="189" y="1020.3" font-size="14.5" fill="#dd1f26" textLength="109.6" lengthAdjust="spacingAndGlyphs">(Govt. Registered Engg.)</text>
<text x="209.1" y="1036.1" font-size="14.5" fill="#dd1f26" textLength="51.4" lengthAdjust="spacingAndGlyphs">(YouTuber)</text>
<text x="131.8" y="1055.9" font-size="14.5" fill="#dd1f26" textLength="160.7" lengthAdjust="spacingAndGlyphs">M. NO :- 8709924602 / 9523101369</text>
<text x="736.7" y="961.1" font-size="15" fill="#d4151b" text-anchor="middle">W</text>
<text x="698.7" y="1002.5" font-size="15" fill="#d4151b" text-anchor="middle">S</text>
<text x="776.8" y="1004" font-size="15" fill="#d4151b" text-anchor="middle">N</text>
<text x="738" y="1043.8" font-size="15" fill="#d4151b" text-anchor="middle">E</text>
<text x="734.6" y="1054.7" font-size="6.4" font-family="'Liberation Sans', sans-serif" font-weight="bold" font-style="italic" fill="#9a1016" text-anchor="middle">ROAD</text>
</svg>
</body></html>
